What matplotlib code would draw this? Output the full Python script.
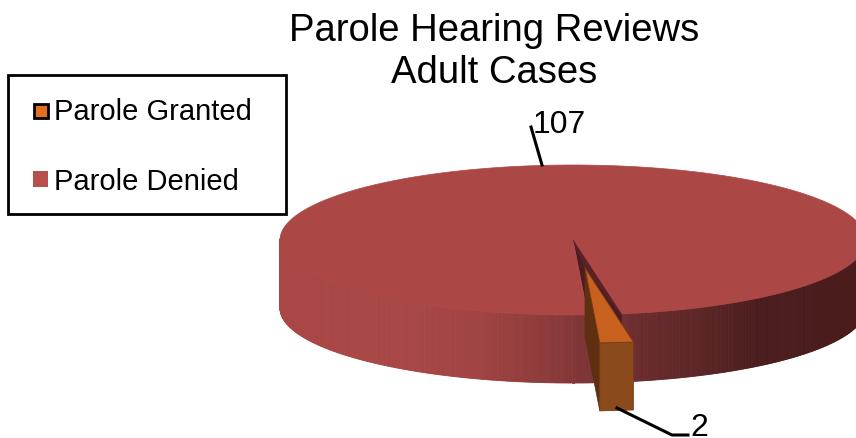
import numpy as np
import matplotlib
matplotlib.use("Agg")
import matplotlib.pyplot as plt
from matplotlib.patches import Polygon, Rectangle
from matplotlib.colors import LinearSegmentedColormap

plt.rcParams['font.family'] = ['Liberation Sans', 'DejaVu Sans']

TITLE = "Parole Hearing Reviews\nAdult Cases"
categories = ["Parole Granted", "Parole Denied"]
values = [2, 107]
colors = ["#C8601E", "#AB4846"]

W, H = 856, 438
fig = plt.figure(figsize=(W/100, H/100), dpi=100)
ax = fig.add_axes([0, 0, 1, 1])
ax.set_xlim(0, W); ax.set_ylim(H, 0); ax.axis('off')

cx, cy, rx, ry, depth = 573, 240, 293, 75, 68
ox, oy = 12, 28          # explosion offset of the small slice
t0 = np.deg2rad(2.9)     # start of the small slice, clockwise-from-front parameter
t1 = t0 + 2*np.pi*values[0]/sum(values)

def pt(t, dx=0, dy=0):
    return cx + dx + rx*np.sin(t), cy + dy + ry*np.cos(t)

# outer wall
wall = LinearSegmentedColormap.from_list(
    "wall", [(0, "#A84746"), (0.2, "#A84746"), (0.34, "#A04342"), (0.45, "#8E3B3B"),
             (0.52, "#7E3435"), (0.62, "#6A2B2D"), (0.72, "#5C2526"), (0.82, "#4A1C1D"), (1, "#4A1C1C")])
ts = np.linspace(-np.pi/2 - 0.02, np.pi/2 + 0.02, 500)
for a, b in zip(ts[:-1], ts[1:]):
    xa, ya = pt(a); xb, yb = pt(b)
    c = wall((xa - (cx - rx))/(2*rx))
    ax.add_patch(Polygon([(xa, ya), (xb, yb), (xb, yb + depth), (xa, ya + depth)],
                         closed=True, fc=c, ec=c, lw=0.6, zorder=2))

# inner notch wall and top of the big slice
ax.add_patch(Polygon([(cx, cy), pt(t1), pt(t1, dy=20), pt(t0, dy=20), pt(t0)],
                     closed=True, fc="#4E1C20", ec="#4E1C20", lw=0.5, zorder=2.5))
tt = np.linspace(t1, t0 + 2*np.pi, 500)
ax.add_patch(Polygon([(cx, cy)] + [pt(t) for t in tt],
                     closed=True, fc=colors[1], ec=colors[1], lw=0.5, zorder=3))
ax.add_patch(Polygon([(cx, cy), pt(t1), pt(t1, dx=-3, dy=-3), (cx + ox, cy + oy)],
                     closed=True, fc="#5A2226", ec="#5A2226", lw=0.5, zorder=3.5))

# exploded small slice
apex = (cx + ox, cy + oy)
a0 = pt(t0, ox, oy); a1 = pt(t1, ox, oy)
ax.add_patch(Polygon([apex, a0, (a0[0], a0[1] + depth), (apex[0], apex[1] + depth)],
                     closed=True, fc="#5E2F10", ec="#5E2F10", lw=0.5, zorder=5))
ax.add_patch(Polygon([a0, a1, (a1[0], a1[1] + depth), (a0[0], a0[1] + depth)],
                     closed=True, fc="#8A4A1C", ec="#7A3E15", lw=0.6, zorder=5))
ax.add_patch(Polygon([apex, a1, a0], closed=True, fc=colors[0], ec="#7A3E15", lw=0.6, zorder=6))

# labels
ax.plot([542, 531], [165, 127], color="black", lw=2.2, zorder=7)
ax.plot([617, 672, 688], [408, 435, 435], color="black", lw=2.2, zorder=7)
ax.text(533, 133, str(values[1]), fontsize=23, va='baseline', ha='left')
ax.text(690, 436, str(values[0]), fontsize=23, va='baseline', ha='left')
ax.text(494, 52, TITLE, fontsize=27.5, ha='center', va='center', linespacing=1.2)

# legend
ax.add_patch(Rectangle((8, 75), 278, 139, fc='white', ec='black', lw=2, zorder=8))
ax.add_patch(Rectangle((34, 104), 14, 14, fc="#E0701F", ec='black', lw=2, zorder=9))
ax.add_patch(Rectangle((33, 171), 15, 16, fc="#B84F4D", ec='none', zorder=9))
ax.text(54, 112, categories[0], fontsize=21, va='center', zorder=9)
ax.text(54, 182, categories[1], fontsize=21, va='center', zorder=9)

fig.savefig("out.png", dpi=100)
